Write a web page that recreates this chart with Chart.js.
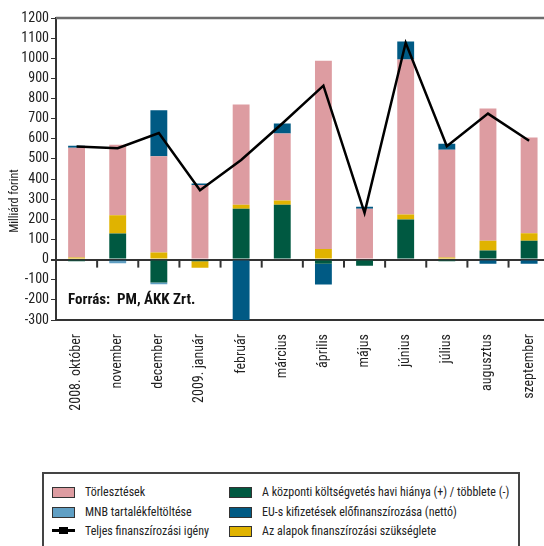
<!DOCTYPE html>
<html>
<head>
<meta charset="utf-8">
<script src="https://cdn.jsdelivr.net/npm/chart.js@4/dist/chart.umd.min.js"></script>
<style>
  html, body { margin: 0; padding: 0; background: #fff; overflow: hidden; width: 544px; height: 546px; }
  #wrap { position: absolute; left: 0; top: 0; width: 560px; height: 432px; }
  #legend {
    position: absolute; left: 42px; top: 472px; width: 474px; height: 100px;
    border: 2px solid #444; box-sizing: content-box;
    font-family: 'Liberation Sans Narrow', 'Roboto Condensed', 'DejaVu Sans Condensed', sans-serif;
    font-size: 12px; color: #222;
  }
  .item { position: absolute; height: 14px; line-height: 14px; white-space: nowrap; }
  .sw { position: absolute; left: 0; top: 2px; width: 21px; height: 9px; border: 1px solid #333; }
  .ln { position: absolute; left: 0; top: 5px; width: 23px; height: 3px; background: #000; }
  .ln:after { content: ''; position: absolute; left: 7px; top: -2px; width: 9px; height: 7px; background: #000; }
  .lbl { position: absolute; left: 33px; top: 0; }
</style>
</head>
<body>
<div id="wrap"><canvas id="chart"></canvas></div>
<div id="legend"></div>
<script>
// kategóriák és sorozatok (milliárd forint)
const months = ['2008. október', 'november', 'december', '2009. január', 'február', 'március',
                'április', 'május', 'június', 'július', 'augusztus', 'szeptember'];
const kozponti = [-8, 130, -114, -8, 253, 273, -20, -30, 199, -8, 45, 94];
const alapok = [10, 90, 35, -32, 20, 20, 53, 5, 25, 10, 49, 37];
const torlesztesek = [546, 350, 478, 370, 497, 333, 935, 248, 770, 536, 656, 475];
const euElofin = [10, -8, 229, 8, -300, 50, -104, 10, 89, 30, -20, -20];
const mnb = [0, -10, -8, 0, 0, 0, 0, 0, 0, 0, 0, 0];
const teljes = [562, 553, 629, 344, 495, 676, 864, 232, 1077, 563, 725, 590];

const yMin = -300, yMax = 1200, yStep = 100;
const FONT = "'Liberation Sans Narrow', 'Roboto Condensed', 'DejaVu Sans Condensed', sans-serif";

const colors = {
  torl: '#dd9ca1',
  mnb: '#5f9fc4',
  kozp: '#005941',
  eu: '#005a84',
  alap: '#e0b300'
};

// segéd rajzolások: felső keretvonal, nulla vonal jelölői, tengelycím, forrás
const extras = {
  id: 'extras',
  afterDatasetsDraw(chart) {
    const { ctx, chartArea, scales } = chart;
    const x = scales.x, y = scales.y;
    ctx.save();
    // felső vonal
    ctx.strokeStyle = '#6d6d6d';
    ctx.lineWidth = 2.5;
    ctx.beginPath();
    ctx.moveTo(chartArea.left, chartArea.top);
    ctx.lineTo(chartArea.right, chartArea.top);
    ctx.stroke();
    // kis jelölők a nulla vonalon a hónapok között
    const y0 = y.getPixelForValue(0);
    ctx.strokeStyle = '#333';
    ctx.lineWidth = 2;
    for (let i = 0; i < months.length - 1; i++) {
      const xm = (x.getPixelForValue(i) + x.getPixelForValue(i + 1)) / 2;
      ctx.beginPath();
      ctx.moveTo(xm, y0);
      ctx.lineTo(xm, y0 + 8);
      ctx.stroke();
    }
    // forrás
    ctx.fillStyle = '#111';
    ctx.font = 'bold 15px ' + FONT;
    ctx.textBaseline = 'middle';
    ctx.textAlign = 'left';
    ctx.fillText('Forrás:  PM, ÁKK Zrt.', chartArea.left + 12, y.getPixelForValue(-200));
    // y tengely cím
    ctx.font = '12px ' + FONT;
    ctx.fillStyle = '#222';
    ctx.translate(15, 201);
    ctx.rotate(-Math.PI / 2);
    ctx.textAlign = 'center';
    ctx.fillText('Milliárd forint', 0, 0);
    ctx.restore();
  }
};

const barDs = (label, data, color) => ({
  type: 'bar', label, data, backgroundColor: color, borderWidth: 0,
  stack: 'bars', order: 1, barPercentage: 0.41, categoryPercentage: 1
});

new Chart(document.getElementById('chart'), {
  data: {
    labels: months,
    datasets: [
      {
        type: 'line', label: 'Teljes finanszírozási igény', data: teljes,
        borderColor: '#000', borderWidth: 2.5, pointRadius: 0, tension: 0,
        fill: false, stack: 'line', order: 0
      },
      barDs('A központi költségvetés havi hiánya (+) / többlete (-)', kozponti, colors.kozp),
      barDs('Az alapok finanszírozási szükséglete', alapok, colors.alap),
      barDs('Törlesztések', torlesztesek, colors.torl),
      barDs('EU-s kifizetések előfinanszírozása (nettó)', euElofin, colors.eu),
      barDs('MNB tartalékfeltöltése', mnb, colors.mnb)
    ]
  },
  options: {
    responsive: true,
    maintainAspectRatio: false,
    animation: false,
    layout: { padding: { top: 18, right: 2, left: 0, bottom: 0 } },
    plugins: {
      legend: { display: false },
      tooltip: { enabled: false },
      title: { display: false }
    },
    scales: {
      x: {
        stacked: true,
        grid: { display: false, drawTicks: false },
        border: { display: true, color: '#333', width: 2 },
        ticks: {
          autoSkip: false, minRotation: 90, maxRotation: 90, padding: 14,
          color: '#222', font: { family: FONT, size: 14 }
        },
        afterFit(scale) { scale.height = 112; }
      },
      y: {
        stacked: true,
        min: yMin, max: yMax,
        grid: {
          drawOnChartArea: true,
          color: (c) => (c.tick && c.tick.value === 0 ? '#333' : 'rgba(0,0,0,0)'),
          lineWidth: (c) => (c.tick && c.tick.value === 0 ? 2 : 1),
          tickColor: '#333', tickLength: 5
        },
        border: { display: true, color: '#333', width: 2 },
        ticks: {
          stepSize: yStep, autoSkip: false, padding: 2, color: '#222',
          font: { family: FONT, size: 14 },
          callback: (v) => String(v)
        },
        afterFit(scale) { scale.width = 56; }
      }
    }
  },
  plugins: [extras]
});

// jelmagyarázat két oszlopban
const legendItems = [
  { text: 'Törlesztések', color: colors.torl, col: 0, row: 0 },
  { text: 'MNB tartalékfeltöltése', color: colors.mnb, col: 0, row: 1 },
  { text: 'Teljes finanszírozási igény', line: true, col: 0, row: 2 },
  { text: 'A központi költségvetés havi hiánya (+) / többlete (-)', color: colors.kozp, col: 1, row: 0 },
  { text: 'EU-s kifizetések előfinanszírozása (nettó)', color: colors.eu, col: 1, row: 1 },
  { text: 'Az alapok finanszírozási szükséglete', color: colors.alap, col: 1, row: 2 }
];
const legend = document.getElementById('legend');
legendItems.forEach(it => {
  const d = document.createElement('div');
  d.className = 'item';
  d.style.left = (it.col === 0 ? 8 : 185) + 'px';
  d.style.top = (11 + it.row * 19.5) + 'px';
  d.innerHTML = (it.line ? '<span class="ln"></span>' : '<span class="sw" style="background:' + it.color + '"></span>') +
    '<span class="lbl">' + it.text + '</span>';
  legend.appendChild(d);
});
</script>
</body>
</html>
